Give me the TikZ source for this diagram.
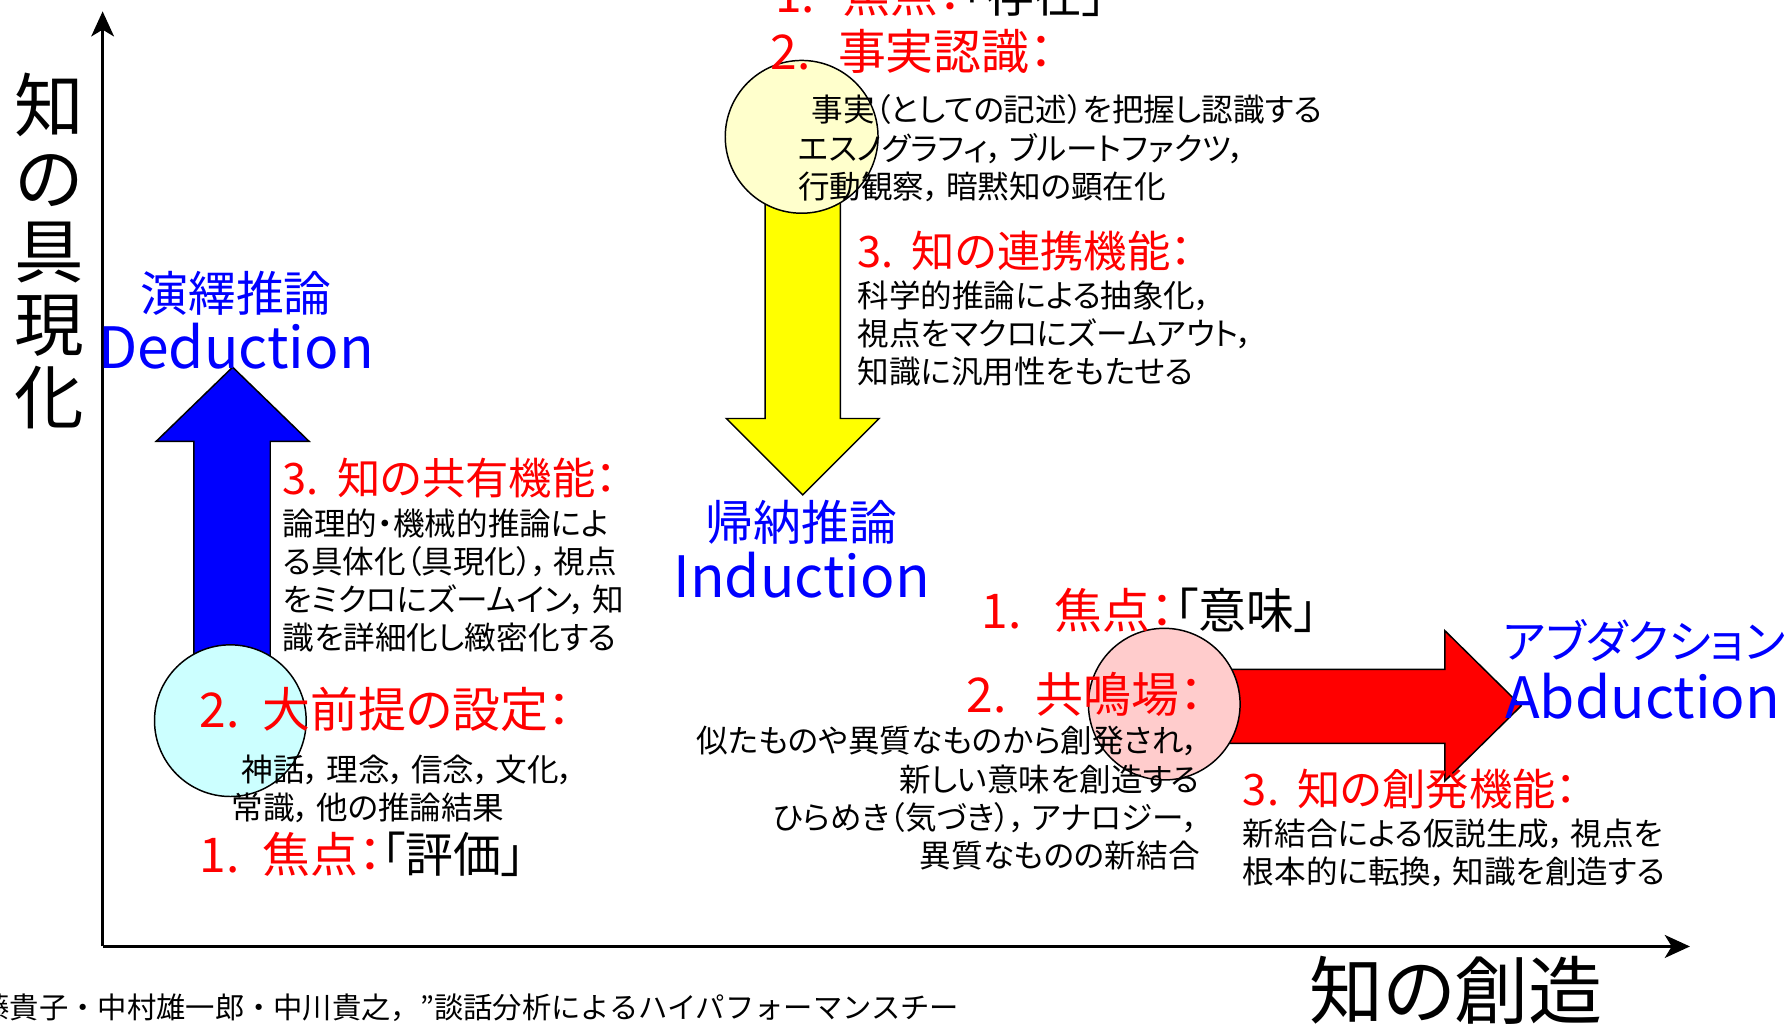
\documentclass[tikz,border=0pt]{standalone}
\usepackage{fontspec}
\setmainfont{Noto Sans CJK JP}[RawFeature={+palt}]
\newfontfamily\jpfull{Noto Sans CJK JP}
\usetikzlibrary{arrows.meta}
\definecolor{cyanfill}{HTML}{CCFFFF}
\definecolor{yelfill}{HTML}{FFFFCC}
\definecolor{pinkfill}{HTML}{FFCCCC}
\definecolor{pureblue}{HTML}{0000FF}
\definecolor{purered}{HTML}{FF0000}
\definecolor{pureyellow}{HTML}{FFFF00}
\newcommand{\jcm}{，\hspace{5pt}}
\tikzset{
  axisline/.style={draw=black, line width=#1, -{Stealth[length=22pt,width=20pt,inset=6pt]}},
  blockarrow/.style={draw=black, line width=1.3pt, fill=#1},
  focuscircle/.style={draw=black, line width=1.3pt, fill=#1},
  txt/.style={inner sep=0pt, outer sep=0pt},
  body/.style={txt, align=left, font=\fontsize{27.7}{33.5}\selectfont},
  bodyr/.style={txt, align=right, font=\fontsize{27.7}{33.5}\selectfont},
  headbig/.style={txt, font=\fontsize{42}{50}\selectfont, text=purered},
  headmid/.style={txt, font=\fontsize{38}{42}\selectfont, text=purered},
  jpblue/.style={txt, font=\fontsize{42}{50}\selectfont, text=pureblue},
  enblue/.style={txt, font=\fontsize{50}{56}\selectfont, text=pureblue},
}
\begin{document}
\begin{tikzpicture}[x=1pt,y=-1pt]
\useasboundingbox (0,0) rectangle (1568,901);
\fill[white] (0,0) rectangle (1568,901);

% axes
\coordinate (O) at (90,830);
\coordinate (ytip) at (90,10);
\coordinate (xtip) at (1482,830);
\draw[axisline=2pt] (O) -- (ytip);
\draw[axisline=3pt] (O) -- (xtip);

% block arrows
\path[blockarrow=pureblue] (170,620) -- (170,387) -- (137,387) -- (204,322) -- (271,387) -- (237,387) -- (237,620) -- cycle;
\path[blockarrow=pureyellow] (671,130) -- (671,367) -- (637,367) -- (704,434) -- (771,367) -- (737,367) -- (737,130) -- cycle;
\path[blockarrow=purered] (1020,587) -- (1267,587) -- (1267,553) -- (1334,619) -- (1267,685) -- (1267,652) -- (1020,652) -- cycle;

% circles
\path[focuscircle=cyanfill] (202,632) circle[radius=66.5];
\path[focuscircle=yelfill] (703,120) circle[radius=67];
\path[focuscircle=pinkfill] (1021,617.5) circle[radius=66.5];

% axis labels
\node[txt, align=center, font=\fontsize{61}{64}\selectfont] (ylabel) at (43,220) {知\\の\\具\\現\\化};
\node[txt, anchor=base west, font=\fontsize{65}{70}\selectfont] (xlabel) at (1148,893) {知の創造};

% deduction
\node[jpblue] (dedjp) at (207,257) {演繹推論};
\node[enblue, anchor=base west] (deden) at (86,323) {Deduction};
\node[headmid, anchor=base west] (ded3) at (248,434) {3.\hspace{16pt}知の共有機能：};
\node[body, anchor=west] (ded3b) at (248,509) {論理的・機械的推論によ\\る具体化（具現化）\jcm 視点\\をミクロにズームイン\jcm 知\\識を詳細化し緻密化する};
\node[headbig, anchor=base west] (ded2) at (175,638) {2.\hspace{20pt}大前提の設定：};
\node[body, anchor=west] (ded2b) at (203,691.5) {\hspace*{9pt}神話\jcm 理念\jcm 信念\jcm 文化，\\常識\jcm 他の推論結果};
\node[headbig, anchor=base west] (ded1) at (175,765) {1.\hspace{20pt}焦点：{\color{black}「評価」}};

% induction
\node[headbig, anchor=base west] (ind1) at (680,11) {1.\hspace{24pt}焦点：{\color{black}「存在」}};
\node[headbig, anchor=base west] (ind2) at (676,61) {2.\hspace{24pt}事実認識：};
\node[body, anchor=west] (ind2b) at (700,130) {\hspace*{12pt}事実（としての記述）を把握し認識する\\エスノグラフィ\jcm ブルートファクツ，\\行動観察\jcm 暗黙知の顕在化};
\node[headmid, anchor=base west] (ind3) at (752,235) {3.\hspace{16pt}知の連携機能：};
\node[body, anchor=west] (ind3b) at (752,292.7) {科学的推論による抽象化，\\視点をマクロにズームアウト，\\知識に汎用性をもたせる};
\node[jpblue] (indjp) at (703,458) {帰納推論};
\node[enblue, anchor=base] (inden) at (703,524) {Induction};

% abduction
\node[headbig, anchor=base west] (abd1) at (861,551) {1.\hspace{29pt}焦点：{\color{black}「意味」}};
\node[headbig, anchor=base west] (abd2) at (848,625) {2.\hspace{25pt}共鳴場：};
\node[bodyr, anchor=east] (abd2b) at (1052,700) {似たものや異質なものから創発され，\\新しい意味を創造する\\ひらめき（気づき）\jcm アナロジー，\\異質なものの新結合};
\node[headmid, anchor=base west] (abd3) at (1090,706) {3.\hspace{16pt}知の創発機能：};
\node[body, anchor=west] (abd3b) at (1090,748) {新結合による仮説生成\jcm 視点を\\根本的に転換\jcm 知識を創造する};
\node[jpblue, font=\fontsize{40}{46}\selectfont] (abdjp) at (1442,562) {アブダクション};
\node[enblue, anchor=base west] (abden) at (1320,630) {Abduction};

% citation
\node[txt, anchor=west, font=\jpfull\fontsize{25.7}{30}\selectfont] (cite) at (-17,884) {藤貴子・中村雄一郎・中川貴之，”談話分析によるハイパフォーマンスチー};
\end{tikzpicture}
\end{document}
